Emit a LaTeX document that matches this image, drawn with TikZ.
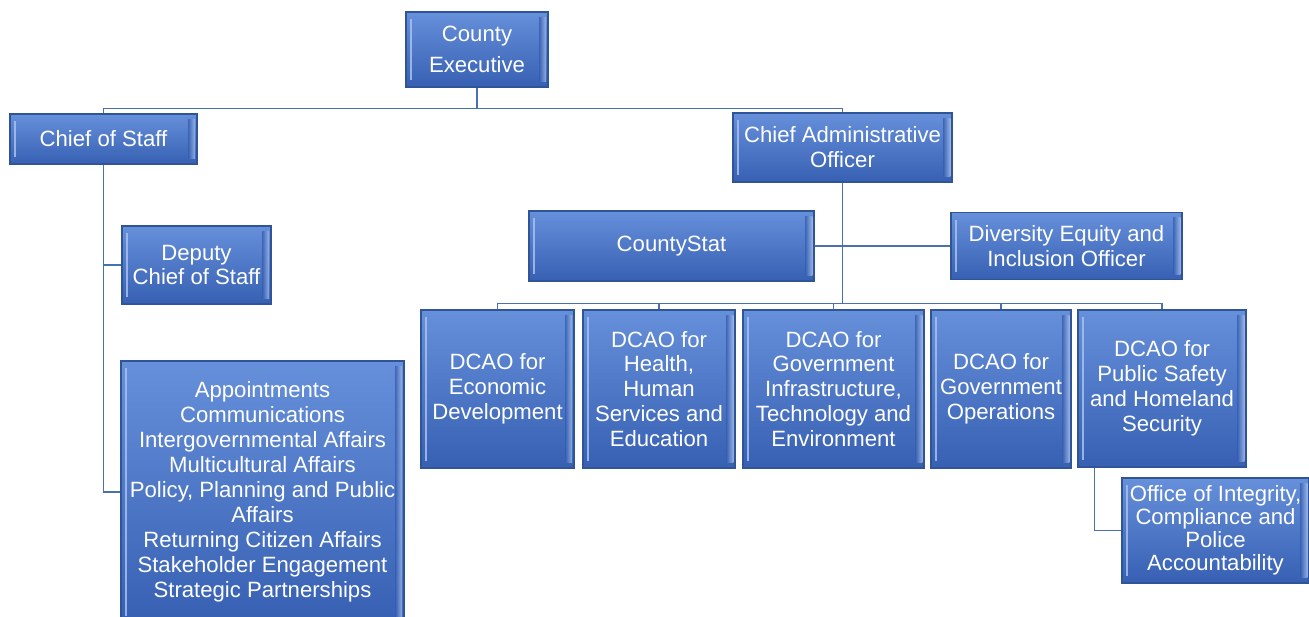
\documentclass[tikz,border=0pt]{standalone}
\usepackage{fontspec}
\setmainfont{Liberation Sans}
\usepackage{tikz}
\usetikzlibrary{positioning}
\usetikzlibrary{calc}

\definecolor{BoxTop}{HTML}{6690DA}
\definecolor{BoxBot}{HTML}{3760B3}
\definecolor{BoxEdge}{HTML}{2F5597}
\definecolor{BevelLight}{HTML}{A8C0EC}
\definecolor{LinkBlue}{HTML}{4A70B0}

\tikzset{
	unitbox/.style={draw=BoxEdge, line width=0.6pt, top color=BoxTop, bottom color=BoxBot,
		text=white, align=center, inner sep=0pt,
		font=\fontsize{12.6}{14.2}\selectfont,
		path picture={
			\fill[BevelLight, opacity=0.85]
				([shift={(2pt,-4pt)}]path picture bounding box.north west)
				rectangle ([shift={(3.2pt,4pt)}]path picture bounding box.south west);
			\shade[left color=BoxBot, right color=BevelLight, opacity=0.8]
				([shift={(-5pt,-3pt)}]path picture bounding box.north east)
				rectangle ([shift={(-1pt,3pt)}]path picture bounding box.south east);
		}},
	orgline/.style={draw=LinkBlue, line width=0.8pt},
}

\begin{document}
\begin{tikzpicture}

	% ------------------------------------------------
	% Size of the page
	\useasboundingbox (0,0) rectangle (26.18,-12.32);

	% ------------------------------------------------
	% Top levels
	\node[unitbox, minimum width=2.84cm, minimum height=1.50cm,
		font=\fontsize{12.6}{17.6}\selectfont] (CountyExec) at (9.54,-0.99) {County\\Executive};

	\node[unitbox, minimum width=3.74cm, minimum height=1.00cm] (ChiefStaff) at (2.07,-2.78) {Chief of Staff};
	\node[unitbox, minimum width=4.38cm, minimum height=1.38cm] (ChiefAdmin) at (16.85,-2.95) {Chief Administrative\\Officer};

	% ----------------
	% Chief of Staff side
	\node[unitbox, minimum width=2.98cm, minimum height=1.56cm,
		font=\fontsize{12.6}{13.6}\selectfont] (DeputyStaff) at (3.93,-5.30) {Deputy\\Chief of Staff};

	\node[unitbox, minimum width=5.66cm, minimum height=5.24cm] (Offices) at (5.25,-9.84)
		{Appointments\\Communications\\Intergovernmental Affairs\\Multicultural Affairs\\
		 Policy, Planning and Public\\Affairs\\Returning Citizen Affairs\\Stakeholder Engagement\\
		 Strategic Partnerships};

	% ----------------
	% Chief Administrative Officer side
	\node[unitbox, minimum width=5.70cm, minimum height=1.40cm] (CountyStat) at (13.43,-4.92) {CountyStat};
	\node[unitbox, minimum width=4.62cm, minimum height=1.34cm] (Diversity) at (21.33,-4.92)
		{Diversity Equity and\\Inclusion Officer};

	\node[unitbox, minimum width=3.06cm, minimum height=3.16cm] (DcaoA) at (9.95,-7.78)
		{DCAO for\\Economic\\Development};
	\node[unitbox, minimum width=3.04cm, minimum height=3.16cm] (DcaoB) at (13.18,-7.78)
		{DCAO for\\Health,\\Human\\Services and\\Education};
	\node[unitbox, minimum width=3.62cm, minimum height=3.16cm] (DcaoC) at (16.67,-7.78)
		{DCAO for\\Government\\Infrastructure,\\Technology and\\Environment};
	\node[unitbox, minimum width=2.80cm, minimum height=3.16cm] (DcaoD) at (20.02,-7.78)
		{DCAO for\\Government\\Operations};
	\node[unitbox, minimum width=3.36cm, minimum height=3.14cm] (DcaoE) at (23.24,-7.77)
		{DCAO for\\Public Safety\\and Homeland\\Security};

	\node[unitbox, minimum width=3.74cm, minimum height=2.10cm,
		font=\fontsize{12.6}{13.0}\selectfont] (Integrity) at (24.31,-10.61)
		{Office of Integrity,\\Compliance and\\Police\\Accountability};

	% ------------------------------------------------
	% Relevant coordinates
	\path (CountyExec.south) +(0,-0.42) coordinate (TopBus);
	\path (ChiefAdmin.south) +(0,-2.42) coordinate (LowBus);

	% ------------------------------------------------
	% Connectors
	\draw[orgline] (CountyExec.south) -- (TopBus);
	\draw[orgline] (ChiefStaff.north) |- (TopBus) -| (ChiefAdmin.north);

	\draw[orgline] (ChiefStaff.south) |- (DeputyStaff.west);
	\draw[orgline] (ChiefStaff.south) |- (Offices.west);

	\draw[orgline] (ChiefAdmin.south) -- (LowBus);
	\draw[orgline] (CountyStat.east) -- (Diversity.west);
	\foreach \d in {DcaoA,DcaoB,DcaoC,DcaoD,DcaoE}
		\draw[orgline] (LowBus) -| (\d.north);

	\draw[orgline] ([xshift=0.34cm]DcaoE.south west) |- (Integrity.west);

\end{tikzpicture}
\end{document}
